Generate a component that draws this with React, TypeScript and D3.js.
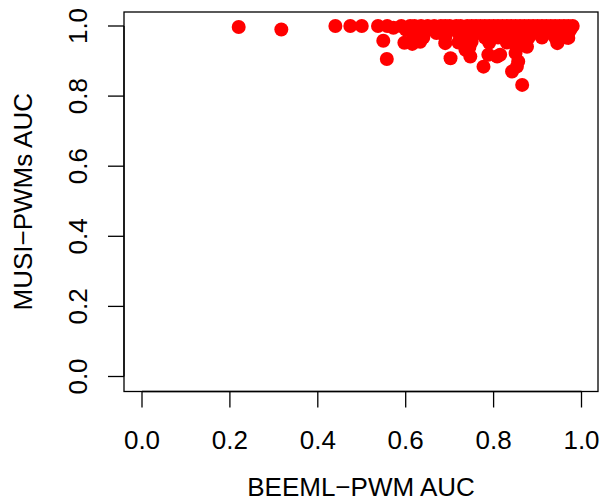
import React from 'react';
import * as d3 from 'd3';

// BEEML-PWM AUC (x) against MUSI-PWMs AUC (y)
const beemlAuc = [
  0.22, 0.317, 0.44, 0.474, 0.5, 0.537, 0.558, 0.572, 0.549, 0.557,
  // top band at 1.0
  0.59, 0.61, 0.62, 0.635, 0.65, 0.665, 0.68, 0.69, 0.7, 0.715, 0.725, 0.74,
  0.75, 0.76, 0.77, 0.78, 0.79, 0.8, 0.81, 0.82, 0.83, 0.84, 0.85, 0.86,
  0.87, 0.88, 0.89, 0.9, 0.91, 0.92, 0.93, 0.94, 0.95, 0.96, 0.97, 0.98,
  // ~0.99
  0.6, 0.63, 0.66, 0.71, 0.73, 0.76, 0.79, 0.82, 0.845, 0.87, 0.9, 0.93, 0.955, 0.975,
  // ~0.98
  0.615, 0.67, 0.72, 0.77, 0.8, 0.835, 0.86, 0.89, 0.92, 0.95, 0.97,
  // ~0.967
  0.64, 0.69, 0.745, 0.78, 0.81, 0.855, 0.88, 0.91, 0.94, 0.965,
  // ~0.952
  0.597, 0.615, 0.633, 0.69, 0.72, 0.75, 0.79, 0.83, 0.86,
  // lower stragglers
  0.736, 0.747, 0.702, 0.777, 0.808, 0.788, 0.815, 0.842, 0.853, 0.856,
  0.85, 0.865, 0.876, 0.853, 0.945, 0.97, 0.745,
];

const musiAuc = [
  0.997, 0.99, 1.0, 1.0, 1.0, 1.0, 1.0, 0.995, 0.958, 0.906,
  1.0, 1.0, 1.0, 1.0, 1.0, 1.0, 1.0, 1.0, 1.0, 1.0, 1.0, 1.0,
  1.0, 1.0, 1.0, 1.0, 1.0, 1.0, 1.0, 1.0, 1.0, 1.0, 1.0, 1.0,
  1.0, 1.0, 1.0, 1.0, 1.0, 1.0, 1.0, 1.0, 1.0, 1.0, 1.0, 1.0,
  0.99, 0.99, 0.99, 0.99, 0.99, 0.99, 0.99, 0.99, 0.99, 0.99, 0.99, 0.99, 0.99, 0.99,
  0.98, 0.98, 0.98, 0.98, 0.98, 0.98, 0.98, 0.98, 0.98, 0.98, 0.98,
  0.967, 0.967, 0.967, 0.967, 0.967, 0.967, 0.967, 0.967, 0.967, 0.967,
  0.952, 0.949, 0.955, 0.951, 0.953, 0.955, 0.952, 0.953, 0.955,
  0.932, 0.913, 0.908, 0.884, 0.913, 0.918, 0.918, 0.87, 0.884, 0.899,
  0.923, 0.832, 0.941, 0.9375, 0.951, 0.966, 0.94,
];

const tickValues = [0, 0.2, 0.4, 0.6, 0.8, 1.0];

const W = 602;
const H = 502;
const box = { left: 124, right: 598, top: 12, bottom: 391.5 };
const font = '"Liberation Sans", Arial, Helvetica, sans-serif';

export default function App() {
  const x = d3.scaleLinear().domain([0, 1]).range([142, 581.5]);
  const y = d3.scaleLinear().domain([0, 1]).range([376.5, 26]);
  const fmt = d3.format('.1f');
  const points = beemlAuc.map((v, i) => ({ x: v, y: musiAuc[i] }));

  return (
    <svg width={W} height={H} style={{ position: 'absolute', left: 0, top: 0, background: '#fff' }}>
      <g>
        {points.map((d, i) => (
          <circle key={i} cx={x(d.x)} cy={y(d.y)} r={7} fill="#ff0000" />
        ))}
      </g>
      <rect
        x={box.left}
        y={box.top}
        width={box.right - box.left}
        height={box.bottom - box.top}
        fill="none"
        stroke="#000"
        strokeWidth={1.3}
      />
      {/* x axis */}
      <g fontFamily={font} fontSize={26} fill="#000">
        <line x1={x(0)} x2={x(1)} y1={box.bottom} y2={box.bottom} stroke="#000" strokeWidth={1.3} />
        {tickValues.map(t => (
          <g key={'x' + t}>
            <line x1={x(t)} x2={x(t)} y1={box.bottom} y2={box.bottom + 16} stroke="#000" strokeWidth={1.3} />
            <text x={x(t)} y={449} textAnchor="middle">{fmt(t)}</text>
          </g>
        ))}
        <text x={(box.left + box.right) / 2} y={496} textAnchor="middle">BEEML−PWM AUC</text>
      </g>
      {/* y axis */}
      <g fontFamily={font} fontSize={26} fill="#000">
        <line x1={box.left} x2={box.left} y1={y(0)} y2={y(1)} stroke="#000" strokeWidth={1.3} />
        {tickValues.map(t => (
          <g key={'y' + t}>
            <line x1={box.left - 16} x2={box.left} y1={y(t)} y2={y(t)} stroke="#000" strokeWidth={1.3} />
            <text transform={`translate(87,${y(t)}) rotate(-90)`} textAnchor="middle">{fmt(t)}</text>
          </g>
        ))}
        <text transform={`translate(32,${(box.top + box.bottom) / 2}) rotate(-90)`} textAnchor="middle">
          MUSI−PWMs AUC
        </text>
      </g>
    </svg>
  );
}
